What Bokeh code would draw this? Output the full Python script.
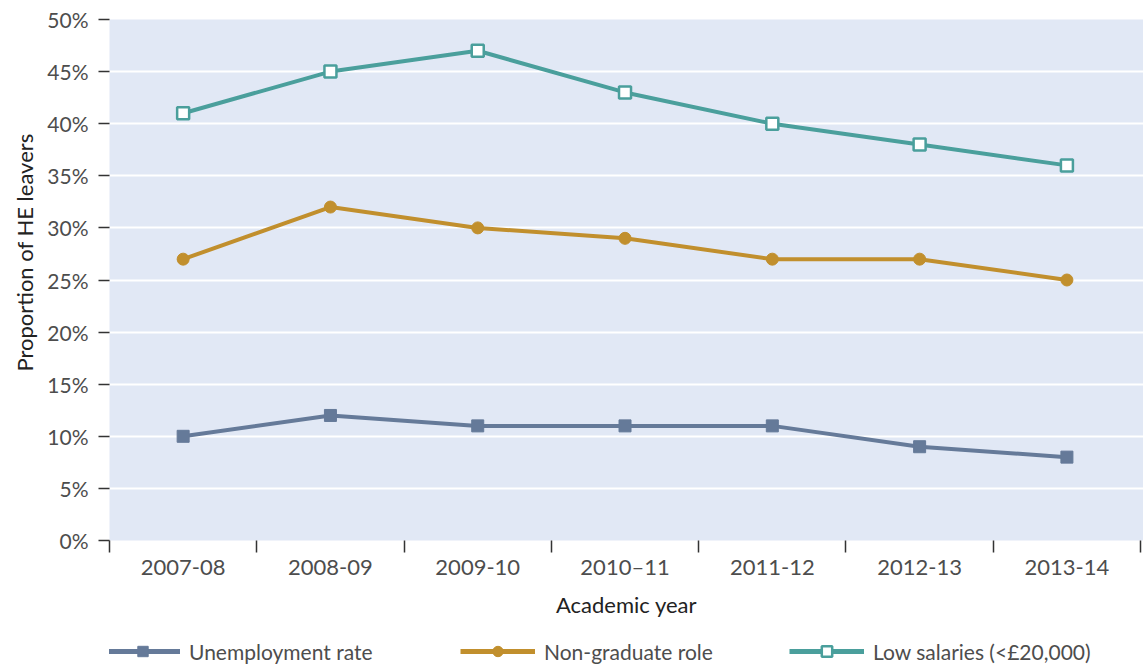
from bokeh.plotting import figure
from bokeh.layouts import column
from bokeh.models import Range1d, FixedTicker, Legend, LegendItem, Title
from bokeh.embed import file_html
from bokeh.resources import INLINE

# Academic years and series values (% of HE leavers)
years = ["2007-08", "2008-09", "2009-10", "2010–11", "2011-12", "2012-13", "2013-14"]
unemployment = [10, 12, 11, 11, 11, 9, 8]
non_graduate = [27, 32, 30, 29, 27, 27, 25]
low_salaries = [41, 45, 47, 43, 40, 38, 36]
y_ticks = [0, 5, 10, 15, 20, 25, 30, 35, 40, 45, 50]
y_tick_labels = ["0%", "5%", "10%", "15%", "20%", "25%", "30%", "35%", "40%", "45%", "50%"]
series_names = ["Unemployment rate", "Non-graduate role", "Low salaries (<£20,000)"]

FONT = "Lato"
BLUE = "#657a99"
GOLD = "#c18f2d"
TEAL = "#4a9f9c"

xs = [i + 0.5 for i in range(len(years))]

p = figure(
    width=1143, height=620,
    x_range=Range1d(0, 7.02), y_range=Range1d(0, 50),
    output_backend="svg", toolbar_location=None,
    min_border_left=109, min_border_right=0, min_border_top=19, min_border_bottom=79,
    background_fill_color="#e1e8f5", border_fill_color="white",
    outline_line_color=None,
)

# grid: white horizontal lines only
p.xgrid.grid_line_color = None
p.ygrid.grid_line_color = "white"
p.ygrid.grid_line_width = 2

# x axis: labels at category centres, tick marks at category boundaries
p.xaxis.ticker = FixedTicker(ticks=xs, minor_ticks=list(range(len(years) + 1)))
p.xaxis.major_label_overrides = {x: y for x, y in zip(xs, years)}
p.xaxis.major_tick_out = 0
p.xaxis.major_tick_in = 0
p.xaxis.minor_tick_out = 12
p.xaxis.minor_tick_in = 0
p.xaxis.minor_tick_line_color = "#333333"
p.xaxis.minor_tick_line_width = 1.5
p.xaxis.axis_line_color = None
p.xaxis.major_label_standoff = 0
p.xaxis.major_label_text_font_size = "22px"
p.xaxis.axis_label = "Academic year"
p.xaxis.axis_label_standoff = 8
p.xaxis.axis_label_text_font_size = "22px"

# y axis
p.yaxis.ticker = FixedTicker(ticks=y_ticks, minor_ticks=[])
p.yaxis.major_label_overrides = {t: l for t, l in zip(y_ticks, y_tick_labels)}
p.yaxis.major_tick_out = 11
p.yaxis.major_tick_in = 0
p.yaxis.major_tick_line_color = "#333333"
p.yaxis.major_tick_line_width = 1.5
p.yaxis.axis_line_color = None
p.yaxis.major_label_standoff = 10
p.yaxis.major_label_text_font_size = "21px"

for ax in (p.xaxis, p.yaxis):
    ax.major_label_text_font = FONT
    ax.major_label_text_color = "#4d4d4d"
    ax.axis_label_text_font = FONT
    ax.axis_label_text_font_style = "normal"
    ax.axis_label_text_color = "#222222"

# vertical axis title, anchored from the bottom of the frame
p.add_layout(Title(
    text="Proportion of HE leavers", align="left", offset=169, standoff=14,
    text_font=FONT, text_font_size="22px", text_font_style="normal", text_color="#222222",
), "left")

# series
p.line(xs, unemployment, line_color=BLUE, line_width=4)
p.scatter(xs, unemployment, marker="square", size=12, fill_color=BLUE, line_color=BLUE)
p.line(xs, non_graduate, line_color=GOLD, line_width=4)
p.scatter(xs, non_graduate, marker="circle", size=12, fill_color=GOLD, line_color=GOLD)
p.line(xs, low_salaries, line_color=TEAL, line_width=4)
p.scatter(xs, low_salaries, marker="square", size=12, fill_color="white", line_color=TEAL, line_width=2.5)

# legend strip below the chart (its frame lines up with the chart's frame)
lg = figure(
    width=1143, height=44, x_range=Range1d(0, 1), y_range=Range1d(0, 1),
    output_backend="svg", toolbar_location=None,
    min_border_left=109, min_border_right=0, min_border_top=0, min_border_bottom=0,
    outline_line_color=None, background_fill_color="white", border_fill_color="white",
)
lg.axis.visible = False
lg.grid.visible = False

nan = float("nan")
styles = [
    (BLUE, dict(marker="square", fill_color=BLUE, line_color=BLUE, line_width=1)),
    (GOLD, dict(marker="circle", fill_color=GOLD, line_color=GOLD, line_width=1)),
    (TEAL, dict(marker="square", fill_color="white", line_color=TEAL, line_width=2.5)),
]
item_x = [-4, 351, 680]
for name, (color, mk), x0 in zip(series_names, styles, item_x):
    ln = lg.line([nan], [nan], line_color=color, line_width=5)
    sc = lg.scatter([nan], [nan], size=12, **mk)
    lg.add_layout(Legend(
        items=[LegendItem(label=name, renderers=[ln, sc])],
        location=(x0, 0), orientation="horizontal",
        glyph_width=75, glyph_height=26, label_standoff=9,
        padding=0, margin=0, border_line_color=None, background_fill_alpha=0,
        label_text_font=FONT, label_text_font_size="21px", label_text_color="#4d4d4d",
    ))

layout = column(p, lg, spacing=0)
open("out.html", "w").write(file_html(layout, INLINE))
